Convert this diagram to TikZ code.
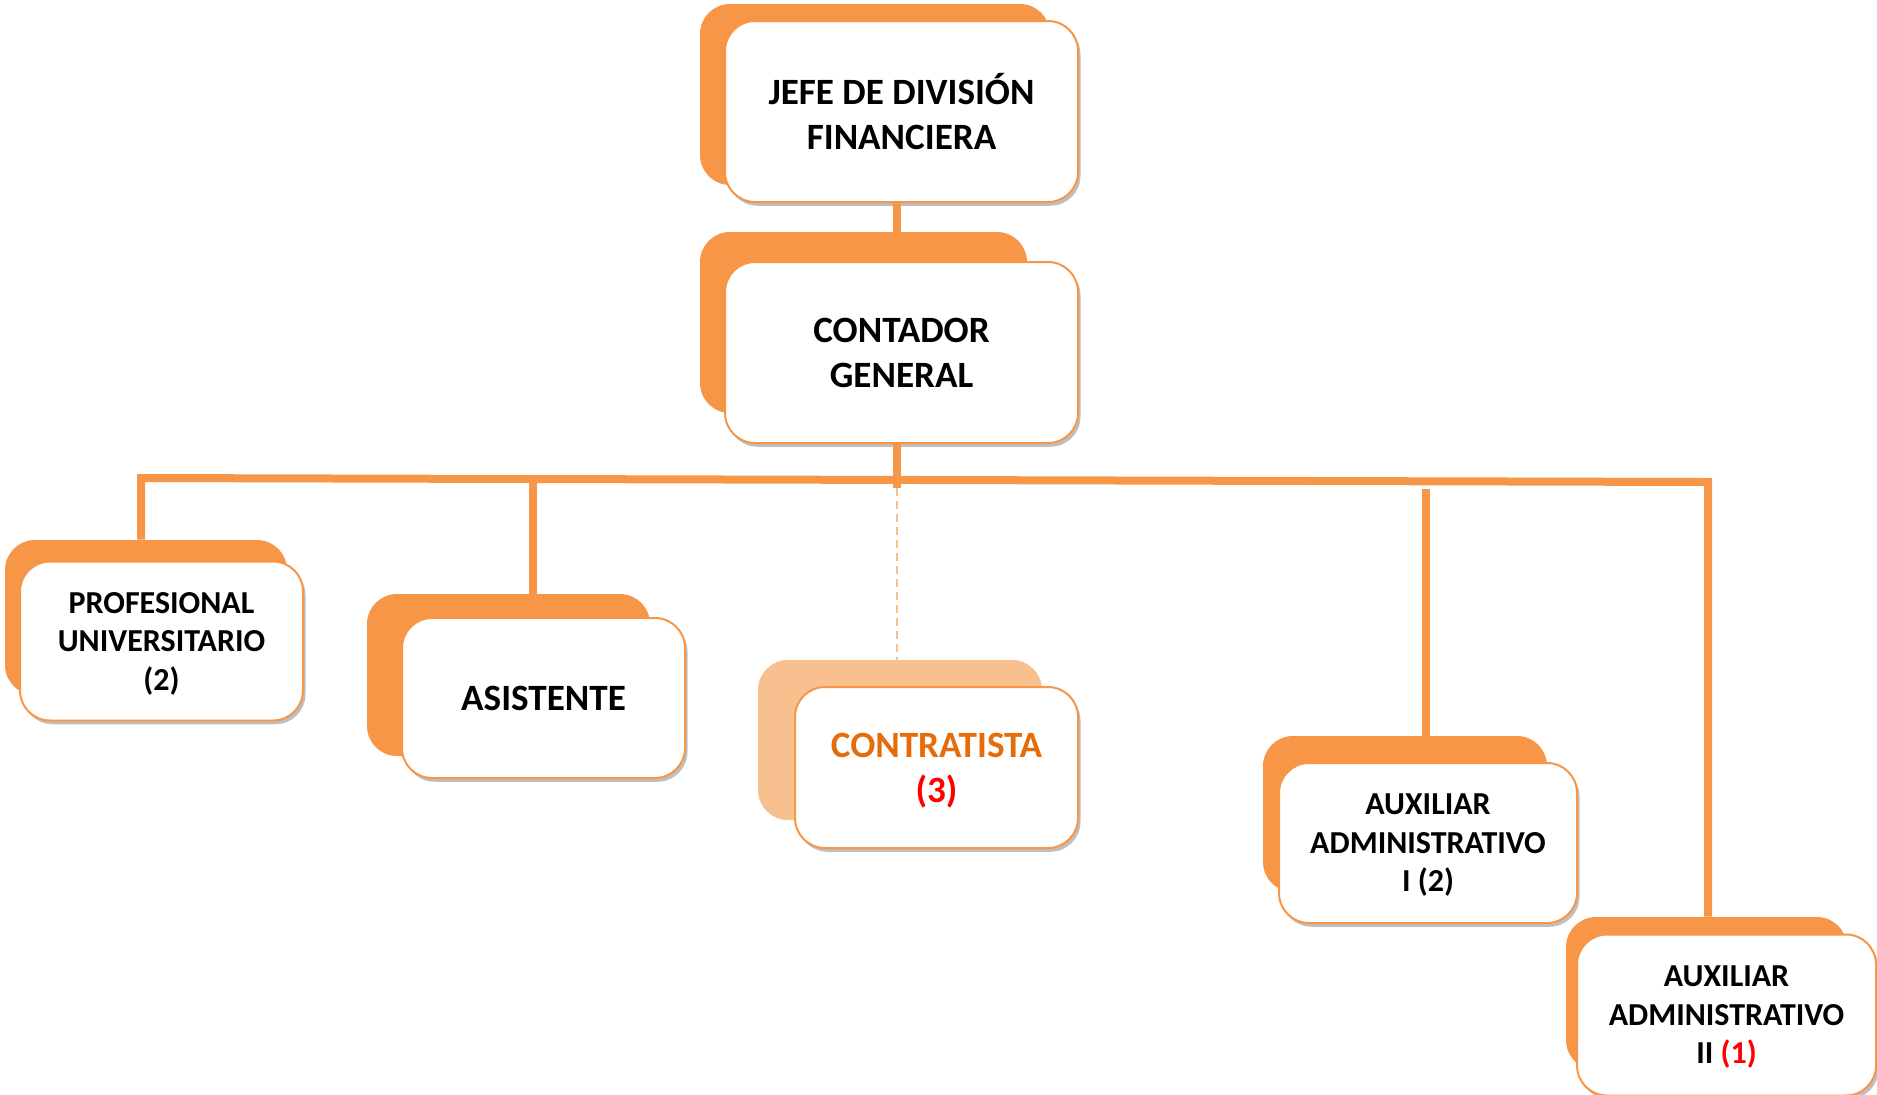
\documentclass[tikz,border=0pt]{standalone}
\usepackage{fontspec}
\setmainfont{Carlito}
\usetikzlibrary{shadows}

\definecolor{naranja}{HTML}{F79646}
\definecolor{naranjaclaro}{HTML}{F9C08F}
\definecolor{naranjaosc}{HTML}{E46C0A}
\definecolor{rojo}{HTML}{FF0000}
\newcommand{\un}{0.4pt}

\tikzset{
  fondo/.style 2 args={fill=naranja, rounded corners=12pt, inner sep=0pt,
    minimum width=#1*\un, minimum height=#2*\un},
  cargo/.style 2 args={fill=white, draw=naranja, line width=0.8pt, rounded corners=12pt,
    inner sep=0pt, align=center, text depth=0pt, minimum width=#1*\un, minimum height=#2*\un,
    drop shadow={shadow xshift=1pt, shadow yshift=-1.5pt, opacity=0.25, fill=black}},
  grande/.style={font=\fontsize{14.85}{18}\selectfont\bfseries},
  chico/.style={font=\fontsize{12.8}{15.4}\selectfont\bfseries},
  linea/.style={draw=naranja, line width=3.2pt},
  punteada/.style={draw=naranjaclaro, line width=0.8pt, dash pattern=on 3.2pt off 2pt}
}

\begin{document}
\begin{tikzpicture}[x=\un, y=-\un]

      \useasboundingbox (0,0) rectangle (1877,1094);
      \clip (0,0) rectangle (1877,1094);

      % fondos
      \node[fondo={350}{181}] (jefe-b) at (875,94.5) {};
      \node[fondo={327}{181}] (cont-b) at (863.5,322.5) {};
      \node[fondo={282}{155}] (prof-b) at (146,617.5) {};
      \node[fondo={283}{162}] (asis-b) at (508.5,675) {};
      \node[fondo={284}{160}, fill=naranjaclaro] (contr-b) at (900,740) {};
      \node[fondo={284}{156}] (aux1-b) at (1405,814) {};
      \node[fondo={281}{153}] (aux2-b) at (1706.5,993.5) {};

      % cargos
      \node[cargo={353}{181}, grande] (jefe) at (901.5,111.5) {JEFE DE DIVISIÓN\\FINANCIERA};
      \node[cargo={353}{181}, grande] (cont) at (901.5,352.5) {CONTADOR\\GENERAL};
      \node[cargo={283}{159}, chico] (prof) at (161.5,641) {PROFESIONAL\\UNIVERSITARIO\\(2)};
      \node[cargo={283}{160}, grande] (asis) at (543.5,698) {ASISTENTE};
      \node[cargo={283}{161}, grande, text=naranjaosc] (contr) at (936.5,767.5)
            {CONTRATISTA\\\textcolor{rojo}{(3)}};
      \node[cargo={298}{160}, chico] (aux1) at (1428,843) {AUXILIAR\\ADMINISTRATIVO\\I (2)};
      \node[cargo={299}{161}, chico] (aux2) at (1726.5,1015) {AUXILIAR\\ADMINISTRATIVO\\II \textcolor{rojo}{(1)}};

      % lineas
      \coordinate (eje) at (897,488);
      \coordinate (busL) at (141,478);
      \coordinate (busR) at (1708,482);
      \coordinate (asisA) at (533,480);
      \coordinate (aux1A) at (1426,489);

      \draw[linea] (jefe.south -| eje) -- (cont-b.north -| eje);
      \draw[linea] (cont.south -| eje) -- (eje);
      \draw[punteada] (eje) -- (contr-b.north -| eje); % contratista
      \draw[linea] (prof-b.north -| busL) -- (busL) -- (busR) -- (aux2-b.north -| busR);
      \draw[linea] (asisA) -- (asisA |- asis-b.north);
      \draw[linea] (aux1A) -- (aux1A |- aux1-b.north);

\end{tikzpicture}
\end{document}
